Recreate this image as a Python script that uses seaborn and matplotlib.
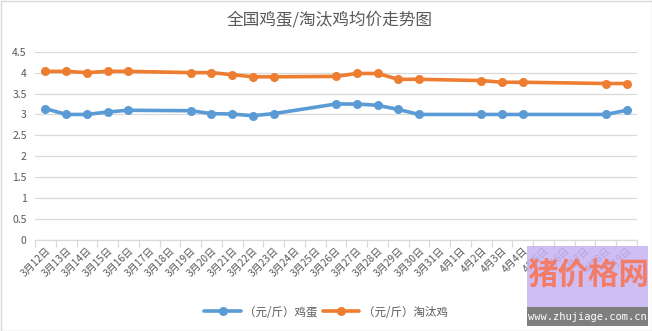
import numpy as np
import pandas as pd
import seaborn as sns
import matplotlib
matplotlib.use("Agg")
import matplotlib.pyplot as plt
from matplotlib.patches import Rectangle

sns.set_theme(style="white")
plt.rcParams['font.family'] = ['Noto Sans CJK SC', 'DejaVu Sans']

dates = ["3月12日", "3月13日", "3月14日", "3月15日", "3月16日", "3月17日", "3月18日",
         "3月19日", "3月20日", "3月21日", "3月22日", "3月23日", "3月24日", "3月25日",
         "3月26日", "3月27日", "3月28日", "3月29日", "3月30日", "3月31日",
         "4月1日", "4月2日", "4月3日", "4月4日", "4月5日", "4月6日", "4月7日", "4月8日", "4月9日"]
nan = np.nan
egg = [3.14, 3.00, 3.00, 3.06, 3.10, nan, nan,
       3.09, 3.02, 3.01, 2.97, 3.02, nan, nan,
       3.25, 3.25, 3.22, 3.12, 3.00, nan,
       nan, 3.00, 3.00, 3.00, nan, nan, nan, 3.00, 3.10]
hen = [4.03, 4.03, 4.00, 4.03, 4.03, nan, nan,
       4.00, 4.00, 3.95, 3.90, 3.90, nan, nan,
       3.91, 3.98, 3.98, 3.84, 3.84, nan,
       nan, 3.81, 3.77, 3.77, nan, nan, nan, 3.74, 3.74]
series_names = ["（元/斤）鸡蛋", "（元/斤）淘汰鸡"]
colors = ["#5B9BD5", "#ED7D31"]
yticks = [0, 0.5, 1, 1.5, 2, 2.5, 3, 3.5, 4, 4.5]
title = "全国鸡蛋/淘汰鸡均价走势图"

df = pd.DataFrame({"idx": np.arange(len(dates)), "date": dates,
                   series_names[0]: egg, series_names[1]: hen})
long = df.melt(id_vars=["idx", "date"], var_name="series", value_name="price").dropna()

fig = plt.figure(figsize=(6.52, 3.31), dpi=100)
ax = fig.add_axes([35/652, 1-240/331, (637-35)/652, (240-51.7)/331])

sns.lineplot(data=long, x="idx", y="price", hue="series", hue_order=series_names,
             palette=colors, marker="o", markersize=6.5, markeredgewidth=0,
             linewidth=2.6, ax=ax, legend=True, estimator=None, sort=True)

ax.set_xlim(-0.5, len(dates) - 0.5)
ax.set_ylim(0, 4.5)
ax.set_yticks(yticks)
ax.set_yticklabels([f"{v:g}" for v in yticks], fontsize=7.5, color="#595959")
ax.yaxis.grid(True, color="#D9D9D9", linewidth=0.9)
ax.xaxis.grid(False)
ax.set_xlabel("")
ax.set_ylabel("")
ax.tick_params(axis="y", length=0, pad=6)

# category boundary ticks and centered labels
ax.set_xticks(np.arange(len(dates) + 1) - 0.5)
ax.set_xticklabels([])
ax.tick_params(axis="x", which="major", length=5, color="#D9D9D9", width=0.9, direction="out")
ax.set_xticks(np.arange(len(dates)), minor=True)
ax.set_xticklabels(dates, minor=True, rotation=45, ha="right", rotation_mode="anchor",
                   fontsize=7.3, color="#595959")
ax.tick_params(axis="x", which="minor", length=0, pad=4)
ax.xaxis.set_tick_params(bottom=True)

for s in ["top", "right", "left"]:
    ax.spines[s].set_visible(False)
ax.spines["bottom"].set_color("#D9D9D9")
ax.spines["bottom"].set_linewidth(0.9)

leg = ax.legend(loc="center", bbox_to_anchor=(326/652, 1-312/331), bbox_transform=fig.transFigure,
                ncol=2, frameon=False, fontsize=8.3, handlelength=3.2, columnspacing=0.4,
                handletextpad=0.3)
for t in leg.get_texts():
    t.set_color("#595959")

fig.text(330/652, 1-20/331, title, ha="center", va="center", fontsize=12, color="#595959")

# chart border
fig.patches.append(Rectangle((0.5/652, 0.5/331), 651/652, 330/331, transform=fig.transFigure,
                             fill=False, edgecolor="#D9D9D9", linewidth=1))

# watermark
fig.patches.append(Rectangle((527/652, 1-307/331), 121/652, 61/331, transform=fig.transFigure,
                             facecolor="#C7B3F2", edgecolor="none", alpha=0.85, zorder=5))
fig.patches.append(Rectangle((527/652, 1-326/331), 121/652, 19/331, transform=fig.transFigure,
                             facecolor="#7F7F7F", edgecolor="none", zorder=5))
fig.text(588/652, 1-276/331, "猪价格网", ha="center", va="center", fontsize=22,
         color="#F27C66", fontweight="bold", zorder=6)
fig.text(587/652, 1-316.5/331, "www.zhujiage.com.cn", ha="center", va="center", fontsize=7.5,
         color="white", family="DejaVu Sans Mono", zorder=6)

fig.savefig("out.png", dpi=100)
